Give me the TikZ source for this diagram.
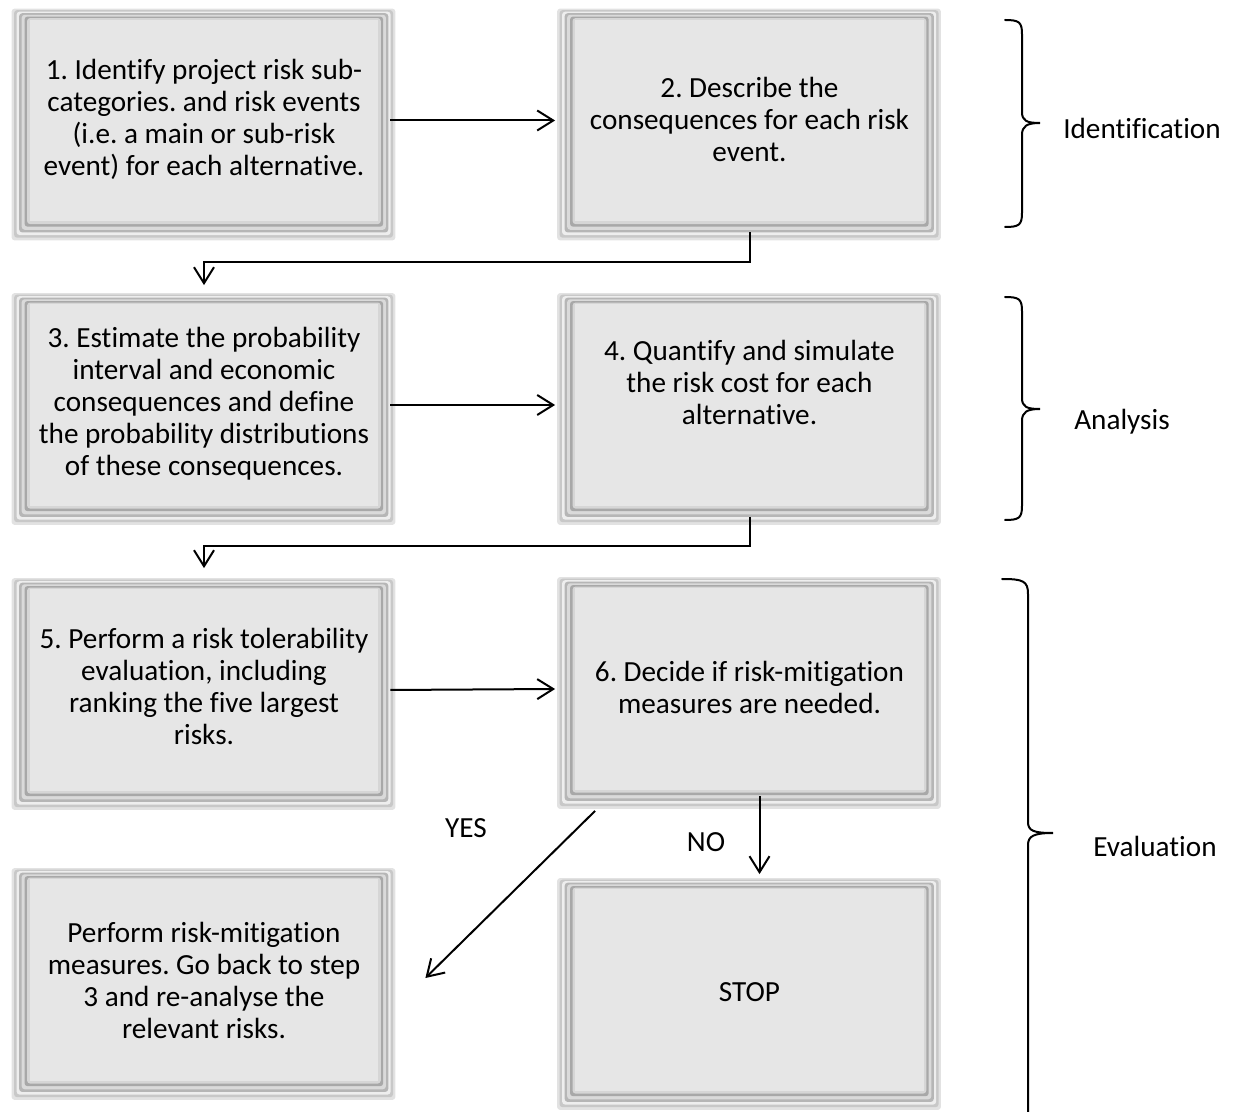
\documentclass[tikz,border=0pt]{standalone}
\usepackage{fontspec}
\setmainfont{Carlito}[Ligatures=NoCommon]
\usetikzlibrary{arrows.meta,backgrounds,calc}

\definecolor{face}{HTML}{E6E6E6}
\definecolor{bvA}{HTML}{E2E2E2}
\definecolor{bvB}{HTML}{C8C8C8}
\definecolor{bvC}{HTML}{EEEEEE}
\definecolor{bvD}{HTML}{B6B6B6}
\definecolor{bvE}{HTML}{DADADA}
\definecolor{bvF}{HTML}{A8A8A8}
\definecolor{bvG}{HTML}{D6D6D6}

\tikzset{
  stepbox/.style={inner sep=0pt, draw=none, minimum width=174pt, minimum height=100.5pt},
  boxtext/.style={align=center, font=\fontsize{14.6}{16}\selectfont, inner sep=0pt},
  sidelabel/.style={font=\fontsize{14.6}{16}\selectfont, inner sep=0pt},
  conn/.style={line width=1pt, -{Straight Barb[length=8pt,width=10pt,line width=1pt]}},
  bracket/.style={line width=1pt, line cap=round}
}

% bevelled frame behind a face node: nested rectangles shrinking toward the face
\newcommand\bevelframe[1]{%
  \foreach \t/\c in {1/bvA,0.86/bvB,0.72/bvC,0.58/bvD,0.44/bvE,0.28/bvF,0.14/bvG}{%
    \fill[\c, rounded corners=1.5pt]
      ([xshift=-9pt*\t, yshift=5.5pt*\t]#1.north west) rectangle
      ([xshift=8.5pt*\t, yshift=-9.5pt*\t]#1.south east);
  }%
  \fill[face] (#1.north west) rectangle (#1.south east);
}

\begin{document}
\frenchspacing
\begin{tikzpicture}[x=0.5pt, y=-0.5pt]
\useasboundingbox (0,0) rectangle (1233,1112);

% face nodes
\node[stepbox] (b1) at (204,120.5) {};
\node[stepbox] (b2) at (749.5,120.5) {};
\node[stepbox] (b3) at (204,405) {};
\node[stepbox] (b4) at (749.5,405) {};
\node[stepbox] (b5) at (204,690) {};
\node[stepbox] (b6) at (749.5,689) {};
\node[stepbox] (b7) at (204,980) {};
\node[stepbox] (b8) at (749.5,990) {};

\begin{scope}[on background layer]
  \bevelframe{b1}
  \bevelframe{b2}
  \bevelframe{b3}
  \bevelframe{b4}
  \bevelframe{b5}
  \bevelframe{b6}
  \bevelframe{b7}
  \bevelframe{b8}
\end{scope}

% box texts
\node[boxtext] (t1) at (204,119) {1. Identify project risk sub-\\categories. and risk events\\(i.e. a main or sub-risk\\event) for each alternative.};
\node[boxtext] (t2) at (749.5,119) {2. Describe the\\consequences for each risk\\event.};
\node[boxtext] (t3) at (204,404) {3. Estimate the probability\\interval and economic\\consequences and define\\the probability distributions\\of these consequences.};
\node[boxtext] (t4) at (749.5,382) {4. Quantify and simulate\\the risk cost for each\\alternative.};
\node[boxtext] (t5) at (204,686) {5. Perform a risk tolerability\\evaluation, including\\ranking the five largest\\risks.};
\node[boxtext] (t6) at (749.5,687) {6. Decide if risk-mitigation\\measures are needed.};
\node[boxtext] (t7) at (204,980) {Perform risk-mitigation\\measures. Go back to step\\3 and re-analyse the\\relevant risks.};
\node[boxtext] (t8) at (749.5,992) {STOP};

% connectors
\draw[conn] ([xshift=6pt]b1.east) -- ([xshift=-10pt]b2.west);
\draw[conn] ([xshift=6pt]b3.east) -- ([xshift=-10pt]b4.west);
\draw[conn] ([xshift=6pt]b5.east) -- ([xshift=-10pt]b6.west);

\coordinate (k1) at ($(b2.south)+(0,-20.5pt)$);
\draw[conn] ([yshift=-5.5pt]b2.south) -- (k1) -| ([yshift=9.5pt]b3.north);
\coordinate (k2) at ($(b4.south)+(0,-20pt)$);
\draw[conn] ([yshift=-5.5pt]b4.south) -- (k2) -| ([yshift=10.5pt]b5.north);

\draw[conn] ([xshift=10pt,yshift=-10.5pt]b6.south west) -- ([xshift=23.5pt,yshift=1pt]b7.east);
\draw[conn] ([xshift=5pt,yshift=-3pt]b6.south) -- ([xshift=5pt,yshift=7.5pt]b8.north);

\node[sidelabel] (yes) at (466,828) {YES};
\node[sidelabel] (no) at (706,842) {NO};

% phase brackets
\draw[bracket] (1005,20) .. controls (1019,20) and (1022,22) .. (1022,34)
  -- (1022,112) .. controls (1022,121) and (1027,123) .. (1040,123)
  .. controls (1027,123) and (1022,126) .. (1022,135)
  -- (1022,213) .. controls (1022,225) and (1019,227) .. (1005,227);
\node[sidelabel] (lid) at (1142,128) {Identification};

\draw[bracket] (1005,297) .. controls (1019,297) and (1022,299) .. (1022,311)
  -- (1022,398) .. controls (1022,407) and (1027,409) .. (1040,409)
  .. controls (1027,409) and (1022,412) .. (1022,421)
  -- (1022,506) .. controls (1022,518) and (1019,520) .. (1005,520);
\node[sidelabel] (lan) at (1122,422) {Analysis};

\draw[bracket] (1002,579) .. controls (1023,579) and (1028,581) .. (1028,594)
  -- (1028,822) .. controls (1028,831) and (1034,833) .. (1053,833)
  .. controls (1034,833) and (1028,836) .. (1028,845)
  -- (1028,1112);
\node[sidelabel] (lev) at (1155,846) {Evaluation};
\end{tikzpicture}
\end{document}
